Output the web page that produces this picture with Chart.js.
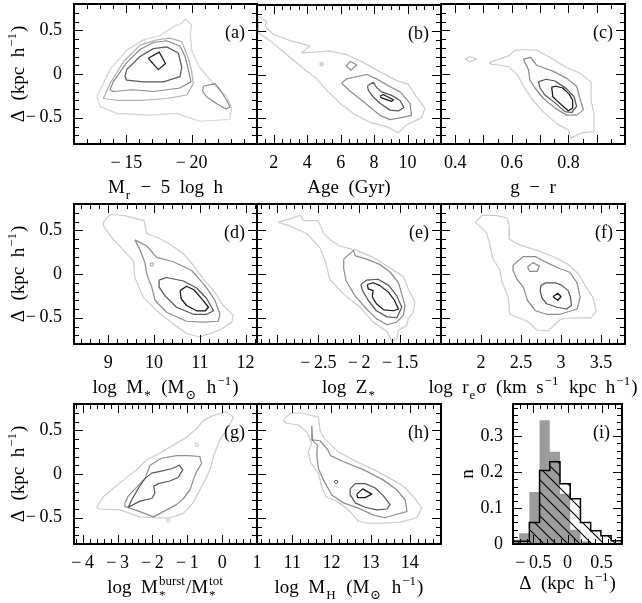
<!DOCTYPE html>
<html>
<head>
<meta charset="utf-8">
<script src="https://cdn.jsdelivr.net/npm/chart.js@4.4.1/dist/chart.umd.min.js"></script>
<style>
  body { margin: 0; background: #fff; }
  #page { position: relative; width: 642px; height: 603px; }
  #page canvas { position: absolute; left: 0; top: 0; }
</style>
</head>
<body>
<div id="page"></div>
<script>
// ---- contour outlines, in data units [x, delta] ----
const magOuter = [[-12.74,-0.26],[-13.75,0.05],[-15.03,0.27],[-16.3,0.39],[-17.58,0.44],[-18.6,0.54],[-19.24,0.58],[-19.5,0.63],[-20.0,0.56],[-19.9,0.46],[-20.0,0.27],[-20.6,0.08],[-21.66,-0.11],[-22.7,-0.26],[-23.07,-0.39],[-22.9,-0.52],[-20.6,-0.54],[-18.86,-0.45],[-16.8,-0.47],[-14.27,-0.45],[-12.99,-0.37]];
const magLevel2 = [[-13.24,-0.28],[-13.76,-0.11],[-14.78,0.14],[-16.05,0.33],[-17.33,0.39],[-18.35,0.41],[-19.24,0.37],[-19.75,0.18],[-20.0,0.03],[-20.13,-0.11],[-19.62,-0.24],[-18.09,-0.28],[-16.31,-0.3],[-14.27,-0.3]];
const magLevel3 = [[-13.75,-0.18],[-14.0,-0.09],[-15.03,0.13],[-16.05,0.28],[-17.07,0.36],[-18.09,0.38],[-19.1,0.32],[-19.5,0.2],[-19.75,0.05],[-19.95,-0.09],[-19.1,-0.16],[-17.07,-0.2],[-15.5,-0.18],[-14.0,-0.2]];
const magIsland = [[-20.9,-0.14],[-21.79,-0.11],[-22.17,-0.18],[-22.68,-0.3],[-22.94,-0.38],[-22.63,-0.4],[-21.92,-0.34],[-21.15,-0.26],[-20.85,-0.2]];
const magLevel4 = [[-14.9,-0.03],[-15.03,0.05],[-16.05,0.2],[-17.07,0.29],[-18.09,0.31],[-18.98,0.24],[-19.24,0.08],[-19.11,-0.03],[-17.83,-0.09],[-16.3,-0.09],[-15.03,-0.07]];
const magCore = [[-16.68,0.18],[-17.52,0.25],[-18.0,0.12],[-17.45,0.05]];

const ageOuter = [[1.08,0.67],[1.58,0.61],[1.48,0.56],[1.98,0.46],[2.97,0.39],[4.17,0.33],[3.67,0.25],[5.36,0.27],[6.36,0.23],[7.35,0.14],[8.35,0.03],[9.35,-0.07],[10.04,-0.11],[10.54,-0.26],[11.04,-0.39],[10.84,-0.5],[9.94,-0.58],[9.45,-0.67],[8.75,-0.6],[7.75,-0.55],[6.76,-0.45],[5.96,-0.33],[5.26,-0.2],[4.57,-0.05],[3.57,0.1],[2.77,0.23],[1.78,0.39],[1.08,0.48]];
const ageMid = [[6.06,-0.1],[6.36,-0.05],[7.55,0.0],[8.15,-0.05],[8.85,-0.13],[9.55,-0.2],[10.14,-0.33],[10.24,-0.47],[9.55,-0.5],[8.95,-0.52],[8.35,-0.47],[7.35,-0.31],[6.56,-0.19]];
const ageMidIsle = [[6.32,0.1],[6.6,0.15],[6.96,0.11],[6.62,0.05]];
const ageDark = [[7.61,-0.13],[7.95,-0.09],[8.15,-0.15],[8.45,-0.2],[9.05,-0.24],[9.55,-0.3],[9.78,-0.38],[9.45,-0.42],[8.95,-0.41],[8.35,-0.33],[7.95,-0.26],[7.65,-0.18]];
const ageCore = [[8.35,-0.25],[8.55,-0.23],[9.15,-0.29],[9.05,-0.31],[8.45,-0.27]];
const ageDot = [[4.86,0.12]];

const colourOuter = [[0.52,0.13],[0.59,0.21],[0.61,0.27],[0.65,0.28],[0.69,0.27],[0.74,0.18],[0.79,0.08],[0.84,0.01],[0.88,-0.09],[0.88,-0.3],[0.89,-0.45],[0.89,-0.66],[0.85,-0.67],[0.81,-0.73],[0.8,-0.64],[0.76,-0.57],[0.71,-0.43],[0.67,-0.28],[0.64,-0.13],[0.62,-0.01],[0.59,0.08],[0.56,0.1],[0.53,0.11]];
const colourOuterIsle = [[0.435,0.17],[0.452,0.2],[0.476,0.17],[0.452,0.14]];
const colourMid = [[0.641,0.17],[0.667,0.19],[0.688,0.1],[0.747,0.03],[0.794,-0.05],[0.829,-0.14],[0.841,-0.28],[0.853,-0.41],[0.829,-0.47],[0.794,-0.47],[0.753,-0.39],[0.712,-0.28],[0.682,-0.16],[0.664,-0.07],[0.659,0.05]];
const colourDark = [[0.694,-0.09],[0.721,-0.06],[0.753,-0.08],[0.794,-0.17],[0.82,-0.26],[0.829,-0.37],[0.812,-0.44],[0.788,-0.43],[0.753,-0.33],[0.717,-0.24],[0.7,-0.16]];
const colourCore = [[0.741,-0.15],[0.756,-0.14],[0.78,-0.16],[0.803,-0.23],[0.815,-0.3],[0.815,-0.39],[0.8,-0.42],[0.785,-0.38],[0.761,-0.31],[0.745,-0.26]];

const massOuter = [[8.89,0.59],[9.04,0.68],[9.33,0.67],[9.78,0.61],[9.84,0.46],[10.06,0.42],[10.35,0.34],[10.64,0.23],[10.86,0.1],[11.08,-0.06],[11.3,-0.19],[11.51,-0.36],[11.73,-0.47],[11.7,-0.55],[11.44,-0.64],[11.0,-0.72],[10.71,-0.68],[10.42,-0.57],[10.06,-0.42],[9.77,-0.27],[9.58,-0.04],[9.55,0.15],[9.33,0.27],[9.07,0.42],[8.89,0.55]];
const massMid = [[9.58,0.39],[9.84,0.32],[10.06,0.19],[10.42,0.14],[10.82,0.04],[11.11,-0.13],[11.33,-0.3],[11.44,-0.46],[11.4,-0.54],[11.08,-0.55],[10.71,-0.54],[10.28,-0.44],[10.02,-0.3],[9.95,-0.15],[9.84,0.0],[9.8,0.13],[9.69,0.28]];
const massDark = [[10.11,-0.07],[10.27,-0.04],[10.64,-0.08],[10.93,-0.16],[11.15,-0.28],[11.3,-0.42],[11.15,-0.46],[10.86,-0.46],[10.49,-0.38],[10.24,-0.25],[10.11,-0.15]];
const massCore = [[10.57,-0.19],[10.71,-0.14],[10.87,-0.18],[11.02,-0.27],[11.19,-0.38],[11.12,-0.42],[10.93,-0.42],[10.71,-0.36],[10.59,-0.28]];
const massDot = [[9.95,0.11]];

const metalOuter = [[-2.99,0.59],[-2.72,0.67],[-2.68,0.61],[-2.5,0.61],[-2.44,0.47],[-2.34,0.38],[-2.24,0.32],[-2.03,0.27],[-1.83,0.19],[-1.64,0.08],[-1.46,-0.03],[-1.4,-0.17],[-1.32,-0.32],[-1.34,-0.44],[-1.4,-0.51],[-1.42,-0.59],[-1.52,-0.64],[-1.54,-0.74],[-1.6,-0.77],[-1.66,-0.66],[-1.83,-0.55],[-1.99,-0.38],[-2.19,-0.23],[-2.36,-0.06],[-2.41,0.13],[-2.48,0.3],[-2.64,0.46],[-2.85,0.55]];
const metalMid = [[-2.19,0.17],[-2.07,0.27],[-2.05,0.21],[-1.91,0.17],[-1.75,0.11],[-1.62,0.02],[-1.52,-0.1],[-1.48,-0.23],[-1.44,-0.36],[-1.46,-0.47],[-1.54,-0.55],[-1.66,-0.58],[-1.79,-0.51],[-1.91,-0.4],[-2.05,-0.25],[-2.16,-0.08],[-2.19,0.06]];
const metalDark = [[-1.98,-0.12],[-1.91,-0.07],[-1.77,-0.06],[-1.64,-0.13],[-1.54,-0.25],[-1.48,-0.38],[-1.54,-0.5],[-1.66,-0.49],[-1.79,-0.42],[-1.89,-0.3],[-1.96,-0.19]];
const metalCore = [[-1.9,-0.12],[-1.83,-0.1],[-1.75,-0.13],[-1.64,-0.21],[-1.57,-0.3],[-1.52,-0.4],[-1.58,-0.42],[-1.7,-0.41],[-1.79,-0.34],[-1.84,-0.26],[-1.83,-0.19],[-1.89,-0.17]];

const sizeOuter = [[1.93,0.59],[2.01,0.67],[2.18,0.67],[2.33,0.64],[2.36,0.51],[2.35,0.4],[2.49,0.33],[2.7,0.27],[2.9,0.2],[3.09,0.11],[3.22,0.0],[3.3,-0.13],[3.4,-0.27],[3.44,-0.42],[3.38,-0.5],[3.15,-0.5],[2.99,-0.52],[2.84,-0.65],[2.7,-0.64],[2.58,-0.54],[2.36,-0.46],[2.34,-0.27],[2.26,-0.08],[2.23,0.06],[2.15,0.17],[2.11,0.34],[2.07,0.47],[1.98,0.55]];
const sizeMid = [[2.4,0.1],[2.53,0.2],[2.68,0.2],[2.82,0.13],[2.99,0.06],[3.11,0.02],[3.2,-0.1],[3.24,-0.27],[3.2,-0.4],[2.99,-0.46],[2.82,-0.46],[2.68,-0.42],[2.58,-0.3],[2.53,-0.15],[2.45,-0.06],[2.4,0.04]];
const sizeMidIsle = [[2.58,0.08],[2.65,0.13],[2.73,0.09],[2.7,0.03],[2.61,0.03]];
const sizeDark = [[2.75,-0.13],[2.81,-0.1],[2.93,-0.1],[3.01,-0.13],[3.09,-0.19],[3.12,-0.27],[3.13,-0.36],[3.07,-0.4],[2.95,-0.38],[2.82,-0.34],[2.76,-0.27],[2.74,-0.19]];
const sizeCore = [[2.9,-0.26],[2.96,-0.22],[3.0,-0.26],[2.96,-0.3]];

const burstOuter = [[-3.6,-0.38],[-3.41,-0.26],[-3.17,-0.18],[-2.84,-0.07],[-2.45,0.05],[-2.17,0.16],[-1.78,0.24],[-1.4,0.33],[-1.02,0.42],[-0.73,0.52],[-0.54,0.61],[-0.25,0.67],[0.13,0.71],[0.32,0.65],[0.22,0.56],[-0.02,0.42],[-0.11,0.35],[-0.25,0.2],[-0.35,0.05],[-0.49,-0.07],[-0.64,-0.18],[-0.83,-0.33],[-1.11,-0.45],[-1.5,-0.5],[-1.88,-0.5],[-2.36,-0.49],[-2.93,-0.41],[-3.5,-0.4]];
const burstMid = [[-2.79,-0.33],[-2.69,-0.25],[-2.45,-0.15],[-2.21,-0.05],[-2.07,0.1],[-1.74,0.18],[-1.31,0.21],[-0.97,0.21],[-0.64,0.2],[-0.59,0.12],[-0.73,0.03],[-0.83,-0.07],[-0.92,-0.18],[-1.11,-0.28],[-1.31,-0.35],[-1.97,-0.49],[-2.36,-0.43],[-2.79,-0.37]];
const burstDark = [[-2.69,-0.38],[-2.36,-0.31],[-2.02,-0.28],[-1.93,-0.22],[-1.96,-0.14],[-1.83,-0.11],[-1.5,-0.08],[-1.26,-0.04],[-1.13,0.05],[-1.23,0.1],[-1.45,0.06],[-1.78,0.03],[-2.02,0.01],[-2.21,-0.05],[-2.4,-0.16],[-2.6,-0.3]];
const burstDots = [[-1.55,-0.53],[-0.73,0.33]];

const haloOuter = [[10.77,0.61],[10.93,0.69],[11.2,0.7],[11.67,0.65],[11.71,0.5],[11.81,0.41],[11.95,0.35],[12.18,0.25],[12.65,0.14],[13.08,0.05],[13.5,-0.05],[13.84,-0.14],[14.1,-0.26],[14.31,-0.39],[14.18,-0.5],[13.76,-0.55],[13.42,-0.56],[12.9,-0.56],[12.69,-0.54],[12.44,-0.41],[12.14,-0.31],[11.86,-0.26],[11.75,-0.14],[11.67,0.01],[11.47,0.13],[11.41,0.25],[11.5,0.35],[11.37,0.48],[11.16,0.56],[10.86,0.58]];
const haloMid = [[11.5,0.55],[11.52,0.39],[11.71,0.38],[11.9,0.28],[11.98,0.21],[12.31,0.14],[12.82,0.05],[13.33,-0.07],[13.67,-0.18],[13.89,-0.3],[13.93,-0.43],[13.67,-0.46],[13.37,-0.5],[13.08,-0.47],[12.69,-0.39],[12.31,-0.33],[12.01,-0.24],[11.8,-0.07],[11.67,0.06],[11.63,0.2],[11.64,0.33],[11.5,0.39]];
const haloDark = [[12.48,-0.17],[12.61,-0.11],[12.86,-0.11],[13.12,-0.16],[13.33,-0.25],[13.5,-0.35],[13.42,-0.4],[13.16,-0.41],[12.86,-0.38],[12.61,-0.33],[12.5,-0.25]];
const haloCore = [[12.65,-0.23],[12.8,-0.17],[13.03,-0.23],[12.86,-0.27],[12.67,-0.27]];
const haloDot = [[12.12,-0.09]];

// ---- histogram (i): bin centres and fractions ----
const histBins = [-0.785, -0.635, -0.485, -0.335, -0.185, -0.035, 0.115, 0.265, 0.415, 0.565, 0.715];
const histWidth = 0.15;
const histAll = [0.012, 0.03, 0.145, 0.345, 0.257, 0.14, 0.04, 0.008, 0, 0, 0];
const histSample = [0.008, 0.008, 0.06, 0.205, 0.229, 0.168, 0.126, 0.06, 0.037, 0.023, 0.009];

// ---- tick labels ----
const deltaLabels = [-0.5, 0, 0.5];
const magLabels = [-15, -20];
const ageLabels = [2, 4, 6, 8, 10];
const colourLabels = [0.4, 0.6, 0.8];
const massLabels = [9, 10, 11, 12];
const metalLabels = [-2.5, -2, -1.5];
const sizeLabels = [2, 2.5, 3, 3.5];
const burstLabels = [-4, -3, -2, -1, 0, 1];
const haloLabels = [11, 12, 13, 14];
const histLabels = [0, 0.1, 0.2, 0.3];

// ---- layout ----
const W = 642, H = 603;
const FONT = '"Liberation Serif", "DejaVu Serif", serif';
const ROWS = [4, 204, 404];
const COLS = [[74, 257], [257, 441], [441, 625]];
const X_AXIS_H = 40, Y_AXIS_W = 70;
const SHADES = ['#cdcdcd', '#8e8e8e', '#575757', '#151515'];
const A_SHADES = ['#d4d4d4', '#b2b2b2', '#8a8a8a', '#5a5a5a', '#1e1e1e'];

function cell(r, c) {
  return [COLS[c][0], ROWS[r], COLS[c][1], ROWS[r] + 140];
}

// minus sign plus a thin gap, as in the printed labels
function fmt(v) {
  return String(v).replace('-', '\u2212\u2009');
}

function contour(points, color) {
  return {
    data: points.concat([points[0]]).map(p => ({x: p[0], y: p[1]})),
    showLine: true, borderColor: color, borderWidth: 1.25, pointRadius: 0, fill: false,
    borderJoinStyle: 'round'
  };
}

function dots(points, color) {
  return {
    data: points.map(p => ({x: p[0], y: p[1]})),
    showLine: false, pointRadius: 1.6, pointBorderColor: color, pointBorderWidth: 1,
    pointBackgroundColor: 'rgba(0,0,0,0)'
  };
}

function steps(centres, heights, width) {
  let pts = centres.map((c, i) => ({x: c - width / 2, y: heights[i]}));
  pts.push({x: centres[centres.length - 1] + width / 2, y: 0});
  return pts;
}

function hatch() {
  let c = document.createElement('canvas');
  c.width = 12; c.height = 12;
  let g = c.getContext('2d');
  g.strokeStyle = '#000';
  g.lineWidth = 1.1;
  g.beginPath();
  g.moveTo(-2, -2); g.lineTo(14, 14);
  g.moveTo(-2, 10); g.lineTo(2, 14);
  g.moveTo(10, -2); g.lineTo(14, 2);
  g.stroke();
  return g.createPattern(c, 'repeat');
}

function tickValues(min, max, step) {
  let out = [];
  for (let k = Math.ceil(min / step - 1e-6); k * step <= max + 1e-6; k++) out.push(k * step);
  return out;
}

function isMajor(v, step) {
  let r = v / step;
  return Math.abs(r - Math.round(r)) < 1e-6;
}

// text with sub/superscripts: parts like {t: 'log M'}, {sub: '*', sup: 'burst'}
// spaces are widened to en spaces, the plotting package set them wide
function drawRich(ctx, parts, x, y, size, angle) {
  let small = Math.round(size * 0.7);
  let items = [], pos = 0;
  for (let p of parts) {
    if (p.t) {
      let text = p.t.replace(/ /g, '\u2002');
      ctx.font = size + 'px ' + FONT;
      items.push({text: text, x: pos, dy: 0, font: ctx.font});
      pos += ctx.measureText(text).width;
    }
    let adv = 0;
    ctx.font = small + 'px ' + FONT;
    if (p.sub) {
      items.push({text: p.sub, x: pos + 1, dy: size * 0.3, font: ctx.font});
      adv = Math.max(adv, ctx.measureText(p.sub).width);
    }
    if (p.sup) {
      items.push({text: p.sup, x: pos + 1, dy: -size * 0.42, font: ctx.font});
      adv = Math.max(adv, ctx.measureText(p.sup).width);
    }
    pos += adv ? adv + 2 : 0;
  }
  ctx.save();
  ctx.translate(x, y);
  if (angle) ctx.rotate(angle);
  ctx.fillStyle = '#000';
  ctx.textAlign = 'left';
  ctx.textBaseline = 'alphabetic';
  for (let it of items) {
    ctx.font = it.font;
    ctx.fillText(it.text, it.x - pos / 2, it.dy);
  }
  ctx.restore();
}

// frame, inward ticks, panel letter and axis titles
function decorate(chart, p) {
  let {ctx, chartArea: a, scales} = chart;
  ctx.save();
  ctx.strokeStyle = '#000';
  ctx.lineWidth = 1;
  ctx.beginPath();
  for (let v of tickValues(scales.x.min, scales.x.max, p.xStep[0])) {
    let px = Math.round(scales.x.getPixelForValue(v)) + 0.5;
    let len = isMajor(v, p.xStep[1]) ? 9 : 5;
    ctx.moveTo(px, a.bottom); ctx.lineTo(px, a.bottom - len);
    ctx.moveTo(px, a.top); ctx.lineTo(px, a.top + len);
  }
  for (let v of tickValues(scales.y.min, scales.y.max, p.yStep[0])) {
    let py = Math.round(scales.y.getPixelForValue(v)) + 0.5;
    let len = isMajor(v, p.yStep[1]) ? 9 : 5;
    ctx.moveTo(a.left, py); ctx.lineTo(a.left + len, py);
    ctx.moveTo(a.right, py); ctx.lineTo(a.right - len, py);
  }
  ctx.stroke();
  ctx.lineWidth = 2;
  ctx.strokeRect(a.left, a.top, a.right - a.left, a.bottom - a.top);

  ctx.fillStyle = '#000';
  ctx.font = '18px ' + FONT;
  ctx.textAlign = 'right';
  ctx.textBaseline = 'alphabetic';
  ctx.fillText('(' + p.id + ')', a.right - 12, a.top + 34);

  drawRich(ctx, p.xTitle, (a.left + a.right) / 2, a.bottom + (p.titleGap || 49), 19);
  if (p.yTitle) drawRich(ctx, p.yTitle, a.left - (p.yTitleGap || 50), (a.top + a.bottom) / 2, 19, -Math.PI / 2);
  ctx.restore();
}

function makePanel(p) {
  let canvas = document.createElement('canvas');
  canvas.width = W;
  canvas.height = H;
  document.getElementById('page').appendChild(canvas);
  let [left, top, right, bottom] = p.box;
  let yW = p.yLabels ? Y_AXIS_W : 0;
  let tickFont = {family: FONT, size: 18};

  new Chart(canvas, {
    type: 'scatter',
    data: {datasets: p.sets},
    options: {
      responsive: false,
      animation: false,
      devicePixelRatio: 1,
      events: [],
      layout: {padding: {left: left - yW, top: top, right: W - right, bottom: H - bottom - X_AXIS_H}},
      plugins: {legend: {display: false}, tooltip: {enabled: false}},
      scales: {
        x: {
          type: 'linear', min: p.x[0], max: p.x[1], reverse: !!p.reverse,
          grid: {display: false, drawTicks: false}, border: {display: false},
          afterFit: s => { s.height = X_AXIS_H; s.paddingLeft = 0; s.paddingRight = 0; },
          afterBuildTicks: s => { s.ticks = p.xLabels.map(v => ({value: v})); },
          ticks: {font: tickFont, color: '#000', padding: 8, maxRotation: 0, autoSkip: false, callback: fmt}
        },
        y: {
          type: 'linear', min: p.y[0], max: p.y[1], display: !!p.yLabels,
          grid: {display: false, drawTicks: false}, border: {display: false},
          afterFit: s => { s.width = yW; s.paddingTop = 0; s.paddingBottom = 0; },
          afterBuildTicks: s => { if (p.yLabels) s.ticks = p.yLabels.map(v => ({value: v})); },
          ticks: {font: tickFont, color: '#000', padding: p.yPad || 12, autoSkip: false, callback: fmt}
        }
      }
    },
    plugins: [{id: 'frame', afterDraw: chart => decorate(chart, p)}]
  });
}

const deltaTitle = [{t: '\u0394 (kpc h'}, {sup: '\u22121'}, {t: ')'}];
const Y = [-0.8, 0.8];
const YSTEP = [0.1, 0.5];

const panels = [
  {id: 'a', box: cell(0, 0), x: [-25, -11], reverse: true, y: Y, xStep: [1, 5], yStep: YSTEP,
   xLabels: magLabels, yLabels: deltaLabels, yTitle: deltaTitle,
   xTitle: [{t: 'M'}, {sub: 'r'}, {t: ' \u2212 5 log h'}],
   sets: [contour(magCore, A_SHADES[4]), contour(magLevel4, A_SHADES[3]), contour(magLevel3, A_SHADES[2]),
          contour(magIsland, A_SHADES[2]), contour(magLevel2, A_SHADES[1]), contour(magOuter, A_SHADES[0])]},
  {id: 'b', box: cell(0, 1), x: [1, 12], y: Y, xStep: [0.5, 2], yStep: YSTEP,
   xLabels: ageLabels, xTitle: [{t: 'Age (Gyr)'}],
   sets: [contour(ageCore, SHADES[3]), contour(ageDark, SHADES[2]), contour(ageMid, SHADES[1]),
          contour(ageMidIsle, SHADES[1]), contour(ageOuter, SHADES[0]), dots(ageDot, '#aaaaaa')]},
  {id: 'c', box: cell(0, 2), x: [0.35, 1.0], y: Y, xStep: [0.05, 0.1], yStep: YSTEP,
   xLabels: colourLabels, xTitle: [{t: 'g \u2212 r'}],
   sets: [contour(colourCore, SHADES[3]), contour(colourDark, SHADES[2]), contour(colourMid, SHADES[1]),
          contour(colourOuter, SHADES[0]), contour(colourOuterIsle, SHADES[0])]},
  {id: 'd', box: cell(1, 0), x: [8.25, 12.25], y: Y, xStep: [0.2, 1], yStep: YSTEP,
   xLabels: massLabels, yLabels: deltaLabels, yTitle: deltaTitle,
   xTitle: [{t: 'log M'}, {sub: '*'}, {t: ' (M'}, {sub: '\u2299'}, {t: ' h'}, {sup: '\u22121'}, {t: ')'}],
   sets: [contour(massCore, SHADES[3]), contour(massDark, SHADES[2]), contour(massMid, SHADES[1]),
          contour(massOuter, SHADES[0]), dots(massDot, SHADES[1])]},
  {id: 'e', box: cell(1, 1), x: [-3.25, -1.0], y: Y, xStep: [0.1, 0.5], yStep: YSTEP,
   xLabels: metalLabels, xTitle: [{t: 'log Z'}, {sub: '*'}],
   sets: [contour(metalCore, SHADES[3]), contour(metalDark, SHADES[2]), contour(metalMid, SHADES[1]),
          contour(metalOuter, SHADES[0])]},
  {id: 'f', box: cell(1, 2), x: [1.5, 3.8], y: Y, xStep: [0.1, 0.5], yStep: YSTEP,
   xLabels: sizeLabels,
   xTitle: [{t: 'log r'}, {sub: 'e'}, {t: '\u03c3 (km s'}, {sup: '\u22121'}, {t: ' kpc h'}, {sup: '\u22121'}, {t: ')'}],
   sets: [contour(sizeCore, SHADES[3]), contour(sizeDark, SHADES[2]), contour(sizeMid, SHADES[1]),
          contour(sizeMidIsle, SHADES[1]), contour(sizeOuter, SHADES[0])]},
  {id: 'g', box: cell(2, 0), x: [-4.25, 1], y: Y, xStep: [0.2, 1], yStep: YSTEP,
   xLabels: burstLabels, yLabels: deltaLabels, yTitle: deltaTitle,
   xTitle: [{t: 'log M'}, {sub: '*', sup: 'burst'}, {t: '/M'}, {sub: '*', sup: 'tot'}],
   sets: [contour(burstDark, SHADES[2]), contour(burstMid, SHADES[1]), contour(burstOuter, SHADES[0]),
          dots(burstDots, '#bbbbbb')]},
  {id: 'h', box: cell(2, 1), x: [10.1, 14.8], y: Y, xStep: [0.2, 1], yStep: YSTEP,
   xLabels: haloLabels,
   xTitle: [{t: 'log M'}, {sub: 'H'}, {t: ' (M'}, {sub: '\u2299'}, {t: ' h'}, {sup: '\u22121'}, {t: ')'}],
   sets: [contour(haloCore, SHADES[3]), contour(haloDark, SHADES[2]), contour(haloMid, SHADES[1]),
          contour(haloOuter, SHADES[0]), dots(haloDot, SHADES[2])]},
  {id: 'i', box: [513, 404, 622, 544], x: [-0.8, 0.8], y: [0, 0.39], xStep: [0.1, 0.5], yStep: [0.02, 0.1],
   xLabels: deltaLabels, yLabels: histLabels, yPad: 10,
   xTitle: deltaTitle, titleGap: 45, yTitle: [{t: 'n'}], yTitleGap: 40,
   sets: [
     {type: 'line', data: steps(histBins, histSample, histWidth), stepped: true, fill: 'origin',
      backgroundColor: hatch(), borderColor: '#000', borderWidth: 1.5, pointRadius: 0},
     {type: 'line', data: steps(histBins, histAll, histWidth), stepped: true, fill: 'origin',
      backgroundColor: '#9c9c9c', borderColor: 'rgba(0,0,0,0)', borderWidth: 0, pointRadius: 0}
   ]}
];

for (let p of panels) makePanel(p);
</script>
</body>
</html>
